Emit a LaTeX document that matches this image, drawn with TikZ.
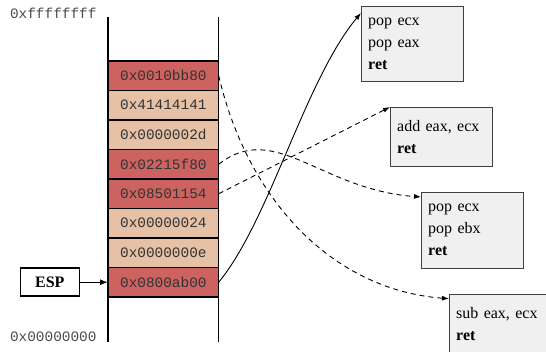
\documentclass[tikz,border=0pt]{standalone}
\usepackage{fontspec}
\setmainfont{Liberation Serif}
\newfontfamily\hexfont{Liberation Mono}
\usetikzlibrary{positioning,arrows.meta}
\definecolor{hotslot}{HTML}{CD6360}
\definecolor{coolslot}{HTML}{E6C1A6}
\definecolor{gadgetfill}{HTML}{F0F0F0}

\begin{document}
\begin{tikzpicture}[x=1pt,y=1pt,node distance=0pt,
    slot/.style={draw=black, line width=1.2pt, minimum width=110.7pt, minimum height=29.5pt,
        inner sep=0pt, outer sep=0pt, text=black!80, font=\hexfont\fontsize{14.4}{16}\selectfont},
    addr/.style={anchor=east, text=black!70, font=\hexfont\fontsize{14.4}{16}\selectfont},
    gadget/.style={draw=black!75, fill=gadgetfill, anchor=north west, align=left, text width=88pt,
        inner xsep=7pt, inner ysep=0pt, font=\fontsize{16}{22}\selectfont},
    jump/.style={line width=0.9pt, -{Latex[length=7pt,width=5pt]}},
    hop/.style={jump, dash pattern=on 5pt off 4pt}]
    \path[use as bounding box] (0,0) rectangle (546,352);
    \clip (0,0) rectangle (546,352);

    % Stack
    \node[slot, fill=hotslot] (slot1) at (163.35,276.25) {0x0010bb80};
    \node[slot, fill=coolslot, below=of slot1] (slot2) {0x41414141};
    \node[slot, fill=coolslot, below=of slot2] (slot3) {0x0000002d};
    \node[slot, fill=hotslot, below=of slot3] (slot4) {0x02215f80};
    \node[slot, fill=hotslot, below=of slot4] (slot5) {0x08501154};
    \node[slot, fill=coolslot, below=of slot5] (slot6) {0x00000024};
    \node[slot, fill=coolslot, below=of slot6] (slot7) {0x0000000e};
    \node[slot, fill=hotslot, below=of slot7] (slot8) {0x0800ab00};
    \draw[line width=1.5pt] ([yshift=44pt]slot1.north west) -- ([yshift=-45pt]slot8.south west);
    \draw[line width=1.5pt] ([yshift=44pt]slot1.north east) -- ([yshift=-45pt]slot8.south east);
    \node[addr] (high) at (100,339) {0xffffffff};
    \node[addr] (low) at (100,15) {0x00000000};

    % Stack pointer
    \node[draw, line width=1.5pt, minimum width=59pt, minimum height=28pt, font=\bfseries\fontsize{16}{18}\selectfont,
        left=28pt of slot8] (esp) {ESP};
    \draw[line width=1.1pt, -{Latex[length=8pt,width=6pt]}] (esp) -- (slot8);

    % Gadgets
    \node[gadget, minimum height=75pt] (popeax) at (361,346) {pop ecx\\pop eax\\\textbf{ret}};
    \node[gadget, minimum height=59pt] (addecx) at (390,245) {add eax, ecx\\\textbf{ret}};
    \node[gadget, minimum height=76pt] (popebx) at (421,160) {pop ecx\\pop ebx\\\textbf{ret}};
    \node[gadget, minimum height=59pt] (subecx) at (449,58) {sub eax, ecx\\\textbf{ret}};

    % Returns
    \draw[jump] (slot8.east) .. controls +(51,62) and +(-56,-67) .. (popeax.149);
    \draw[hop] (slot1.east) .. controls +(29,-124) and +(-117,9) .. (subecx.154);
    \draw[hop] (slot4.east) .. controls +(56,44) and +(-100,7) .. (popebx.147);
    \draw[hop] (slot5.east) -- (addecx.north west);
\end{tikzpicture}
\end{document}
